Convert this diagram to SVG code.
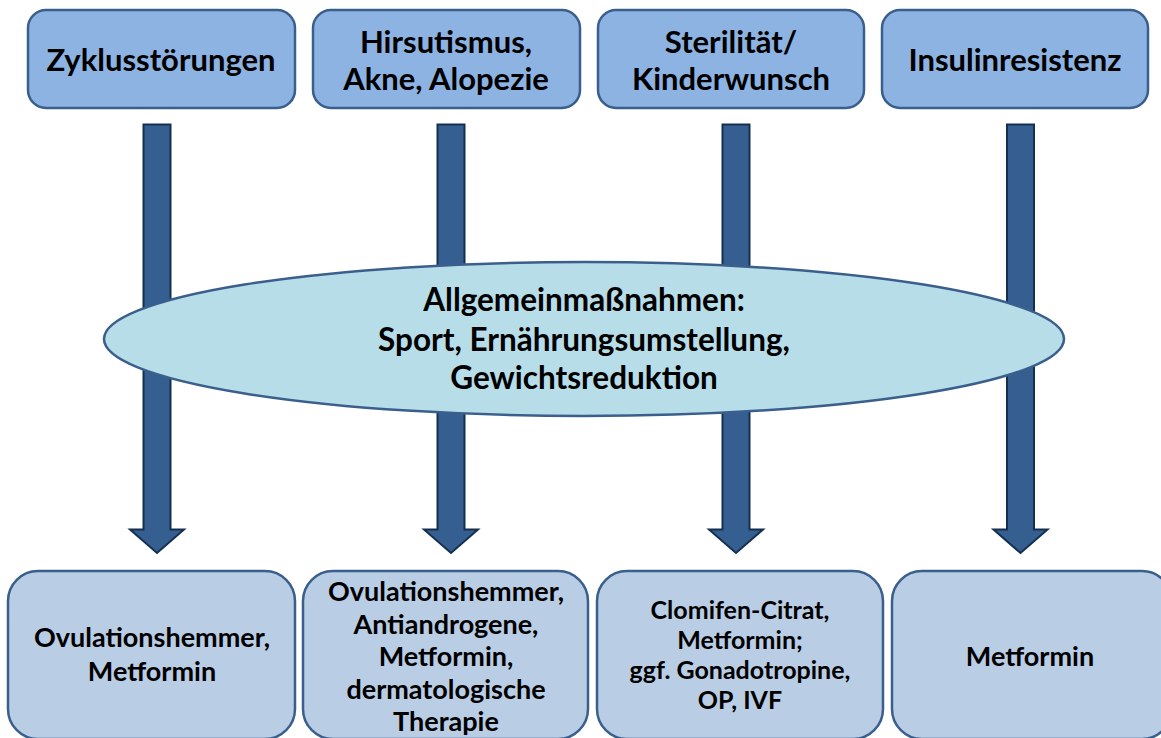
<svg xmlns="http://www.w3.org/2000/svg" width="1161" height="738" viewBox="0 0 1161 738">
<style>
.top{fill:#8db3e2;stroke:#3b5f8c;stroke-width:2.5}
.bot{fill:#b9cde5;stroke:#3b5f8c;stroke-width:2.5}
.ell{fill:#b7dde8;stroke:#3b5f8c;stroke-width:2.5}
.arr{fill:#365f91;stroke:#14304f;stroke-width:2}
text{font-family:Lato,"Liberation Sans",sans-serif;font-weight:700;fill:#000;text-anchor:middle}
.t1{font-size:31px}
.t2{font-size:31.5px}
.t3{font-size:27px}
.t4{font-size:25px}
</style>
<rect width="1161" height="738" fill="#fff"/>
<g id="connectors">
<path class="arr" d="M143.5,124.5 H170.5 V529.5 H184 L157,553 L130,529.5 H143.5 Z"/>
<path class="arr" d="M437.5,124.5 H464.5 V529.5 H478 L451,553 L424,529.5 H437.5 Z"/>
<path class="arr" d="M722.5,124.5 H749.5 V529.5 H763 L736,553 L709,529.5 H722.5 Z"/>
<path class="arr" d="M1007,124.5 H1034 V529.5 H1047.5 L1020.5,553 L993.5,529.5 H1007 Z"/>
</g>
<g id="top1"><rect class="top" x="28" y="10" width="267" height="98" rx="18"/><text class="t1" x="161" y="71">Zyklusstörungen</text></g>
<g id="top2"><rect class="top" x="313" y="10" width="267" height="98" rx="18"/><text class="t1" x="446" y="53">Hirsutismus,</text><text class="t1" x="446" y="90">Akne, Alopezie</text></g>
<g id="top3"><rect class="top" x="598" y="10" width="266" height="98" rx="18"/><text class="t1" x="731" y="53">Sterilität/</text><text class="t1" x="731" y="90">Kinderwunsch</text></g>
<g id="top4"><rect class="top" x="882" y="10" width="266" height="98" rx="18"/><text class="t1" x="1015" y="71">Insulinresistenz</text></g>
<g id="ellipse"><ellipse class="ell" cx="584" cy="339" rx="480" ry="77"/>
<text class="t2" x="584" y="311">Allgemeinmaßnahmen:</text>
<text class="t2" x="584" y="351">Sport, Ernährungsumstellung,</text>
<text class="t2" x="584" y="389">Gewichtsreduktion</text></g>
<g id="bot1"><rect class="bot" x="8" y="571" width="287" height="168" rx="30"/><text class="t3" x="152" y="647">Ovulationshemmer,</text><text class="t3" x="152" y="681">Metformin</text></g>
<g id="bot2"><rect class="bot" x="303" y="571" width="285" height="168" rx="30"/><text class="t3" x="446" y="601">Ovulationshemmer,</text><text class="t3" x="446" y="634">Antiandrogene,</text><text class="t3" x="446" y="666">Metformin,</text><text class="t3" x="446" y="699">dermatologische</text><text class="t3" x="446" y="731">Therapie</text></g>
<g id="bot3"><rect class="bot" x="597" y="571" width="286" height="168" rx="30"/><text class="t4" x="740" y="619">Clomifen-Citrat,</text><text class="t4" x="740" y="649">Metformin;</text><text class="t4" x="740" y="679">ggf. Gonadotropine,</text><text class="t4" x="740" y="709">OP, IVF</text></g>
<g id="bot4"><rect class="bot" x="892" y="571" width="280" height="168" rx="30"/><text class="t3" x="1030" y="666">Metformin</text></g>
</svg>
